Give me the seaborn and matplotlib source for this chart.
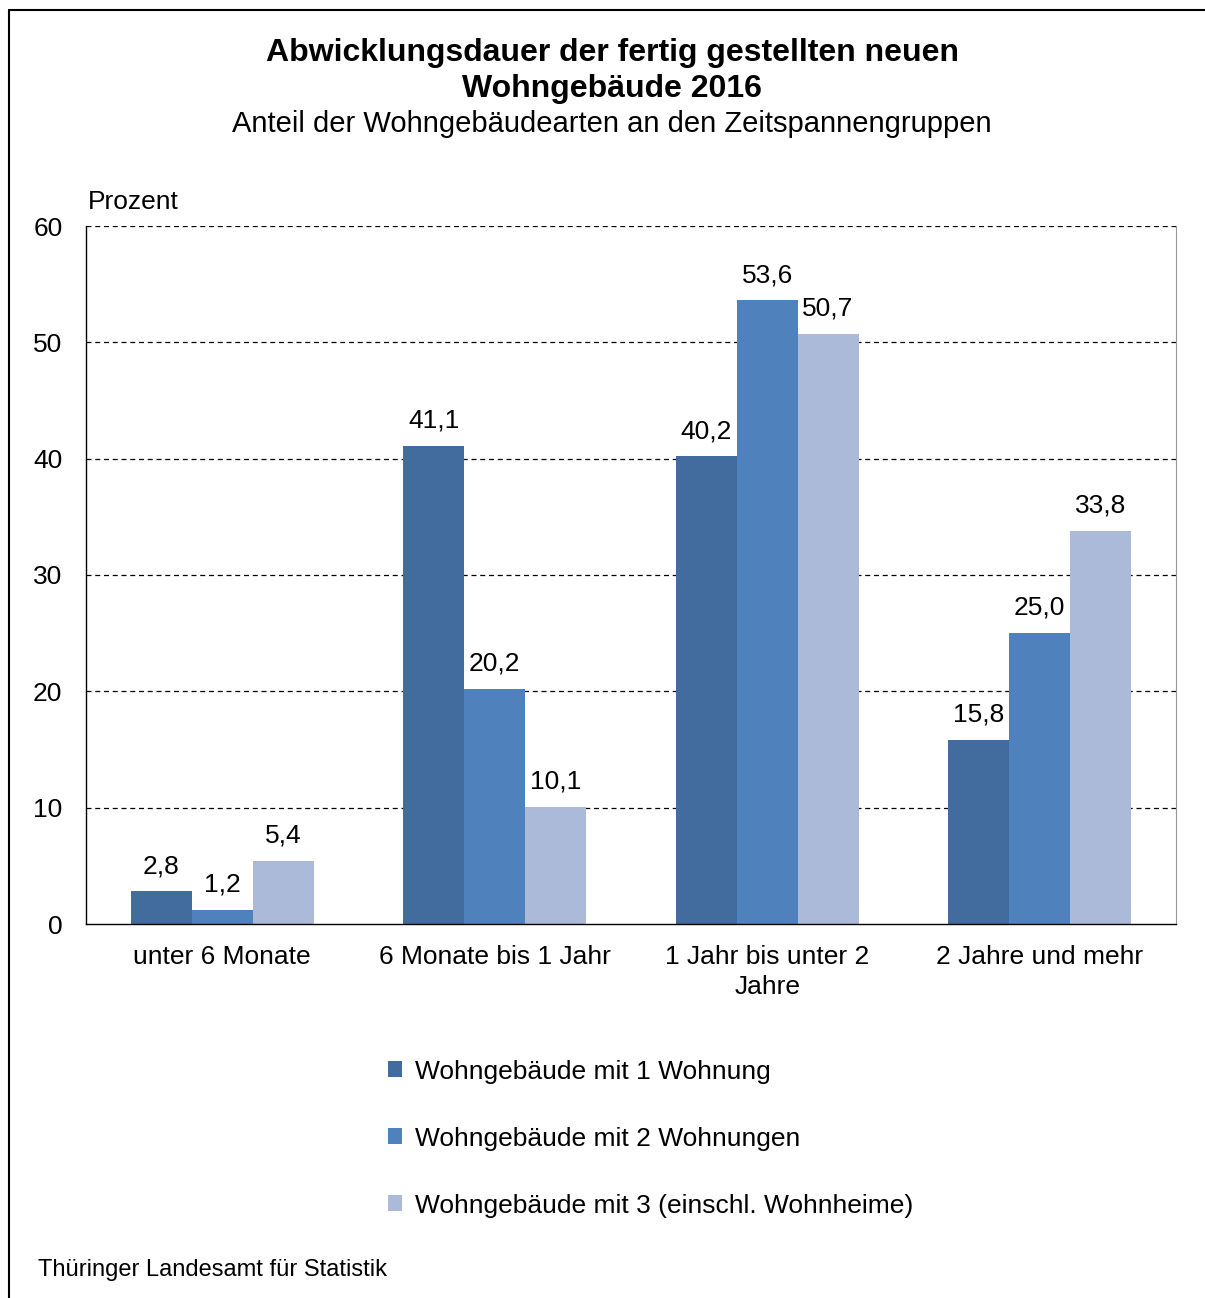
import pandas as pd
import matplotlib.pyplot as plt
import seaborn as sns
from matplotlib.lines import Line2D
from matplotlib.patches import Patch

categories = ['unter 6 Monate', '6 Monate bis 1 Jahr', '1 Jahr bis unter 2\nJahre', '2 Jahre und mehr']
series = ['Wohngebäude mit 1 Wohnung', 'Wohngebäude mit 2 Wohnungen',
          'Wohngebäude mit 3 (einschl. Wohnheime)']
ein_wohnung = [2.8, 41.1, 40.2, 15.8]
zwei_wohnungen = [1.2, 20.2, 53.6, 25.0]
drei_wohnungen = [5.4, 10.1, 50.7, 33.8]
colors = ['#416c9d', '#4f81bd', '#abbad8']

df = pd.DataFrame({
    'Zeitspanne': categories * 3,
    'Art': [series[0]] * 4 + [series[1]] * 4 + [series[2]] * 4,
    'Prozent': ein_wohnung + zwei_wohnungen + drei_wohnungen,
})

sns.set_style('white')
plt.rcParams['font.family'] = ['Liberation Sans', 'DejaVu Sans']
plt.rcParams['text.color'] = 'black'
plt.rcParams['xtick.color'] = 'black'
plt.rcParams['ytick.color'] = 'black'

fig = plt.figure(figsize=(12.05, 12.98), dpi=100)
ax = fig.add_axes([86 / 1205, 1 - 924 / 1298, (1176 - 86) / 1205, (924 - 226) / 1298])

sns.barplot(data=df, x='Zeitspanne', y='Prozent', hue='Art', hue_order=series,
            palette=colors, width=0.67, linewidth=0, saturation=1, ax=ax, legend=False)

for cont in ax.containers:
    ax.bar_label(cont, labels=[f'{v:.1f}'.replace('.', ',') for v in cont.datavalues],
                 padding=9.5, fontsize=19, color='black')

ax.set_ylim(0, 60)
ax.set_xlim(-0.5, 3.5)
ax.set_yticks(range(0, 61, 10))
ax.tick_params(axis='y', length=0, labelsize=19, pad=17)
ax.tick_params(axis='x', which='major', length=0, labelsize=19, pad=15)
for lab in ax.get_xticklabels():
    lab.set_linespacing(1.3)
ax.set_xticks([-0.5, 0.5, 1.5, 2.5, 3.5], minor=True)
ax.tick_params(axis='x', which='minor', length=7, width=1, color='#333333', direction='out')
for y in range(10, 61, 10):
    ax.axhline(y, color='black', lw=0.9, ls=(0, (4, 3)), zorder=0)
ax.set_xlabel('')
ax.set_ylabel('')
ax.spines['top'].set_visible(False)
ax.spines['right'].set_color('#999999')
ax.spines['left'].set_color('black')
ax.spines['bottom'].set_color('black')
ax.spines['left'].set_linewidth(1)
ax.spines['bottom'].set_linewidth(1)

fig.text(88 / 1205, 1 - 202 / 1298, 'Prozent', fontsize=19, va='center', ha='left')

fig.text(612 / 1205, 1 - 53 / 1298, 'Abwicklungsdauer der fertig gestellten neuen',
         fontsize=23, fontweight='bold', ha='center', va='center')
fig.text(612 / 1205, 1 - 89 / 1298, 'Wohngebäude 2016',
         fontsize=23, fontweight='bold', ha='center', va='center')
fig.text(612 / 1205, 1 - 124 / 1298, 'Anteil der Wohngebäudearten an den Zeitspannengruppen',
         fontsize=21, ha='center', va='center')

handles = [Patch(facecolor=c, edgecolor='none') for c in colors]
fig.legend(handles, series, loc='upper left', bbox_to_anchor=(364 / 1205, 1 - 1036 / 1298),
           frameon=False, fontsize=19, handlelength=0.55, handleheight=0.55,
           handletextpad=0.5, labelspacing=1.63)

fig.text(38 / 1205, 1 - 1270 / 1298, 'Thüringer Landesamt für Statistik',
         fontsize=17, ha='left', va='center')

fig.add_artist(Line2D([9 / 1205, 9 / 1205], [0, 1 - 10 / 1298], transform=fig.transFigure,
                      color='black', lw=1.5))
fig.add_artist(Line2D([9 / 1205, 1], [1 - 10 / 1298, 1 - 10 / 1298], transform=fig.transFigure,
                      color='black', lw=1.5))

fig.savefig('out.png', dpi=100, facecolor='white')
